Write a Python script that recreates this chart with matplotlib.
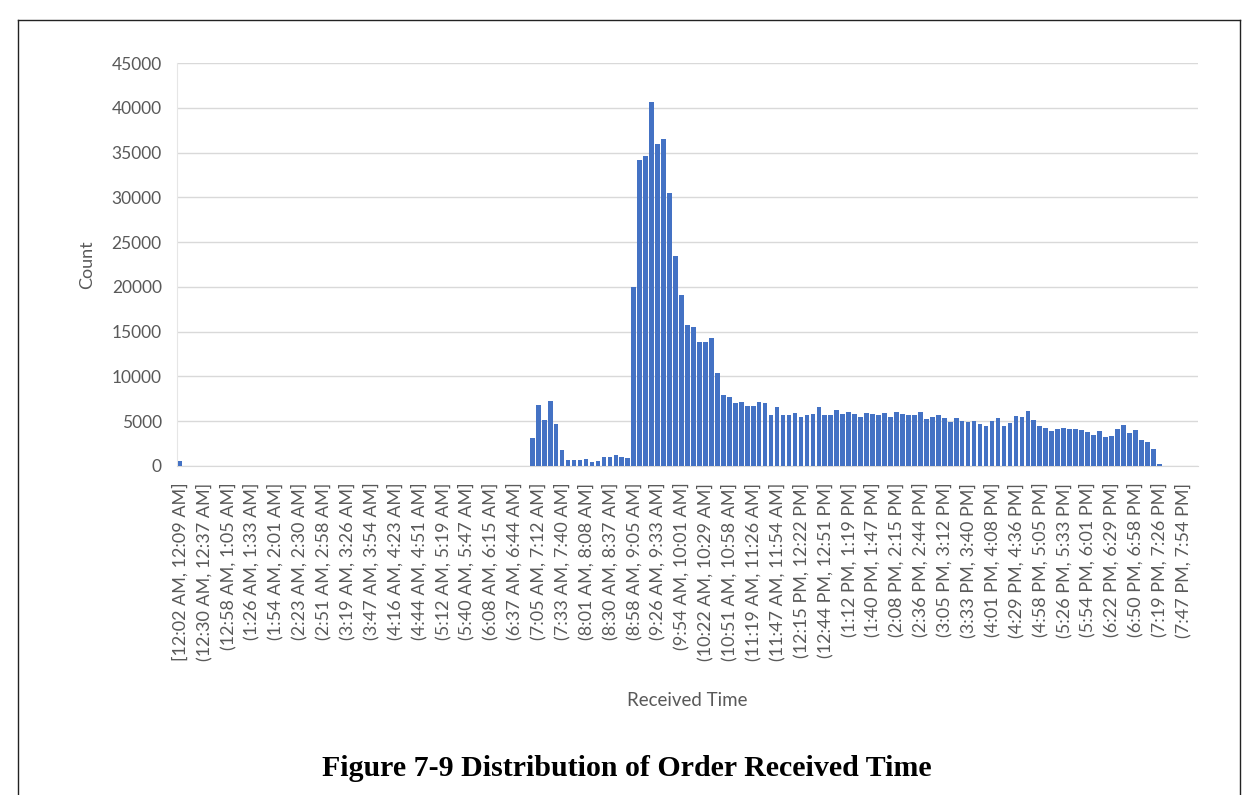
import numpy as np
import matplotlib.pyplot as plt
from matplotlib.lines import Line2D

# order counts per ~7 minute bin, starting at 12:02 AM
counts = ([600] + [0] * 58 +
          [3100, 6800, 5100, 7300, 4700, 1800, 700, 700, 700, 800,
           400, 550, 1000, 950, 1200, 1000, 850, 20000, 34200, 34600,
           40700, 35900, 36500, 30500, 23500, 19100, 15800, 15500, 13800, 13800,
           14300, 10400, 7900, 7700, 7000, 7100, 6700, 6700, 7200, 7000,
           5700, 6550, 5700, 5700, 5950, 5500, 5700, 5800, 6550, 5700,
           5700, 6200, 5800, 6050, 5800, 5500, 5950, 5800, 5650, 5950,
           5500, 6050, 5800, 5650, 5650, 6050, 5250, 5500, 5700, 5400,
           4900, 5400, 5050, 4900, 5050, 4650, 4500, 5050, 5400, 4500,
           4800, 5550, 5450, 6100, 5100, 4450, 4250, 3900, 4150, 4250,
           4150, 4150, 4000, 3800, 3500, 3900, 3200, 3400, 4150, 4550,
           3700, 4000, 2900, 2650, 1950, 250] +
          [0] * 6)

# every fourth bin gets a label
tick_labels = [
    "[12:02 AM, 12:09 AM]", "(12:30 AM, 12:37 AM]", "(12:58 AM, 1:05 AM]",
    "(1:26 AM, 1:33 AM]", "(1:54 AM, 2:01 AM]", "(2:23 AM, 2:30 AM]",
    "(2:51 AM, 2:58 AM]", "(3:19 AM, 3:26 AM]", "(3:47 AM, 3:54 AM]",
    "(4:16 AM, 4:23 AM]", "(4:44 AM, 4:51 AM]", "(5:12 AM, 5:19 AM]",
    "(5:40 AM, 5:47 AM]", "(6:08 AM, 6:15 AM]", "(6:37 AM, 6:44 AM]",
    "(7:05 AM, 7:12 AM]", "(7:33 AM, 7:40 AM]", "(8:01 AM, 8:08 AM]",
    "(8:30 AM, 8:37 AM]", "(8:58 AM, 9:05 AM]", "(9:26 AM, 9:33 AM]",
    "(9:54 AM, 10:01 AM]", "(10:22 AM, 10:29 AM]", "(10:51 AM, 10:58 AM]",
    "(11:19 AM, 11:26 AM]", "(11:47 AM, 11:54 AM]", "(12:15 PM, 12:22 PM]",
    "(12:44 PM, 12:51 PM]", "(1:12 PM, 1:19 PM]", "(1:40 PM, 1:47 PM]",
    "(2:08 PM, 2:15 PM]", "(2:36 PM, 2:44 PM]", "(3:05 PM, 3:12 PM]",
    "(3:33 PM, 3:40 PM]", "(4:01 PM, 4:08 PM]", "(4:29 PM, 4:36 PM]",
    "(4:58 PM, 5:05 PM]", "(5:26 PM, 5:33 PM]", "(5:54 PM, 6:01 PM]",
    "(6:22 PM, 6:29 PM]", "(6:50 PM, 6:58 PM]", "(7:19 PM, 7:26 PM]",
    "(7:47 PM, 7:54 PM]",
]
y_ticks = list(range(0, 45001, 5000))

grey = "#595959"
plt.rcParams['font.family'] = ['Lato', 'DejaVu Sans']

fig = plt.figure(figsize=(12.54, 7.95), dpi=100)
ax = fig.add_axes([177 / 1254, 1 - 466 / 795, (1198 - 177) / 1254, (466 - 63) / 795])

x = np.arange(len(counts))
ax.bar(x, counts, width=0.78, color="#4472C4", zorder=3)

ax.set_xlim(-0.5, len(counts) - 0.5)
ax.set_ylim(0, 45000)
ax.set_yticks(y_ticks)
ax.set_yticklabels([str(v) for v in y_ticks], color=grey, fontsize=12.5)
ax.set_xticks(x[::4][:len(tick_labels)])
ax.set_xticklabels(tick_labels, rotation=90, color=grey, fontsize=13, va="top")
ax.tick_params(length=0)
ax.tick_params(axis="y", pad=11)
ax.tick_params(axis="x", pad=12)

ax.grid(axis="y", color="#d9d9d9", linewidth=1, zorder=0)
for side in ["top", "right"]:
    ax.spines[side].set_visible(False)
ax.spines["bottom"].set_color("#d9d9d9")
ax.spines["left"].set_color("#e6e6e6")

ax.set_ylabel("Count", color=grey, fontsize=13, labelpad=12)
ax.set_xlabel("Received Time", color=grey, fontsize=13.5, labelpad=22)

# frame around the figure block
frame = dict(color="#222222", linewidth=1, transform=fig.transFigure)
fig.add_artist(Line2D([18 / 1254, 18 / 1254], [0, 1 - 20 / 795], **frame))
fig.add_artist(Line2D([1240 / 1254, 1240 / 1254], [0, 1 - 20 / 795], **frame))
fig.add_artist(Line2D([18 / 1254, 1240 / 1254], [1 - 20 / 795, 1 - 20 / 795], **frame))

fig.text(627 / 1254, 1 - 768 / 795, "Figure 7-9 Distribution of Order Received Time",
         ha="center", va="center", fontsize=21.5, fontweight="bold",
         family="Liberation Serif", color="black")

fig.savefig("out.png", dpi=100)
